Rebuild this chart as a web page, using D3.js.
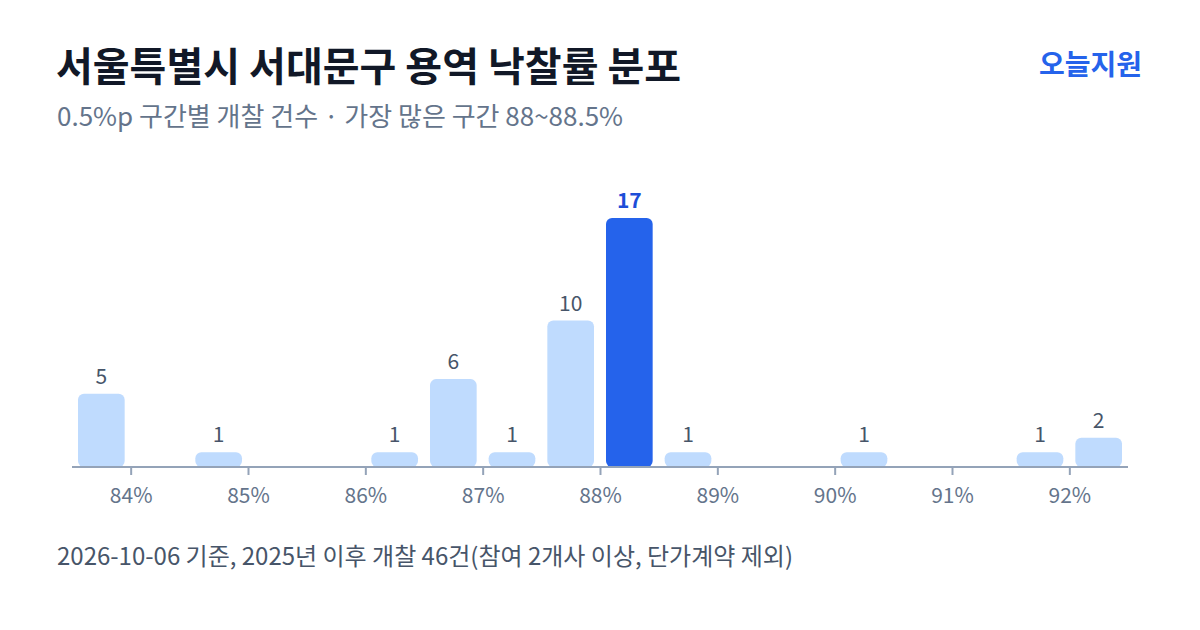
<!DOCTYPE html>
<meta charset="utf-8">
<style>
body{
  margin: 0;
  background: #fff;
}
svg{
  display: block;
  font-family: "Noto Sans CJK KR", "Noto Sans", sans-serif;
}
</style>

<svg width="1200" height="630"></svg>
<script src="https://d3js.org/d3.v7.min.js"></script>
<script>

// bin start (%), width 0.5%p
var binStarts = [83.5, 84.5, 86, 86.5, 87, 87.5, 88, 88.5, 90, 91.5, 92];
var counts    = [5, 1, 1, 6, 1, 10, 17, 1, 1, 1, 2];
var tickValues = [84, 85, 86, 87, 88, 89, 90, 91, 92];
var binWidth = 0.5;

var svg = d3.select("svg");

var x = d3.scaleLinear().domain([83.5, 92.5]).range([72, 1128]);
var y = d3.scaleLinear().domain([0, 17]).range([467, 218]);

var maxCount = d3.max(counts);
var bars = binStarts.map(function(s, i) { return {start: s, count: counts[i]}; });

// title
svg.append("text")
    .attr("x", 56).attr("y", 81)
    .attr("font-size", 40).attr("font-weight", 700)
    .attr("fill", "#111827")
    .text("서울특별시 서대문구 용역 낙찰률 분포");

svg.append("text")
    .attr("x", 57).attr("y", 126)
    .attr("font-size", 26)
    .attr("fill", "#64748b")
    .text("0.5%p 구간별 개찰 건수 · 가장 많은 구간 88~88.5%");

svg.append("text")
    .attr("x", 1142).attr("y", 75)
    .attr("text-anchor", "end")
    .attr("font-size", 28).attr("font-weight", 700)
    .attr("fill", "#2563eb")
    .text("오늘지원");

// bars
var pad = 6;
svg.append("g")
  .selectAll("rect")
  .data(bars)
  .enter().append("rect")
    .attr("x", function(d) { return x(d.start) + pad; })
    .attr("width", function(d) { return x(d.start + binWidth) - x(d.start) - pad * 2; })
    .attr("y", function(d) { return y(d.count); })
    .attr("height", function(d) { return y(0) - y(d.count); })
    .attr("rx", 6)
    .attr("fill", function(d) { return d.count === maxCount ? "#2563eb" : "#bfdbfe"; });

svg.append("g")
  .selectAll("text")
  .data(bars)
  .enter().append("text")
    .attr("x", function(d) { return x(d.start + binWidth / 2); })
    .attr("y", function(d) { return y(d.count) - 10; })
    .attr("text-anchor", "middle")
    .attr("font-size", 21)
    .attr("font-weight", function(d) { return d.count === maxCount ? 700 : 400; })
    .attr("fill", function(d) { return d.count === maxCount ? "#1d4ed8" : "#475569"; })
    .text(function(d) { return d.count; });

// axis
var axis = svg.append("g")
    .attr("transform", "translate(0," + y(0) + ")")
    .call(d3.axisBottom(x)
      .tickValues(tickValues)
      .tickSize(8)
      .tickPadding(13)
      .tickFormat(function(d) { return d + "%"; }));

axis.select(".domain").attr("stroke", "#94a3b8").attr("stroke-width", 2)
    .attr("d", "M" + x.range()[0] + ",0H" + x.range()[1]);
axis.selectAll(".tick line").attr("stroke", "#94a3b8").attr("stroke-width", 2);
axis.selectAll(".tick text")
    .attr("font-family", "\"Noto Sans CJK KR\", sans-serif")
    .attr("font-size", 21)
    .attr("fill", "#64748b");

// footnote
svg.append("text")
    .attr("x", 57).attr("y", 565)
    .attr("font-size", 24)
    .attr("fill", "#475569")
    .text("2026-10-06 기준, 2025년 이후 개찰 46건(참여 2개사 이상, 단가계약 제외)");

</script>
